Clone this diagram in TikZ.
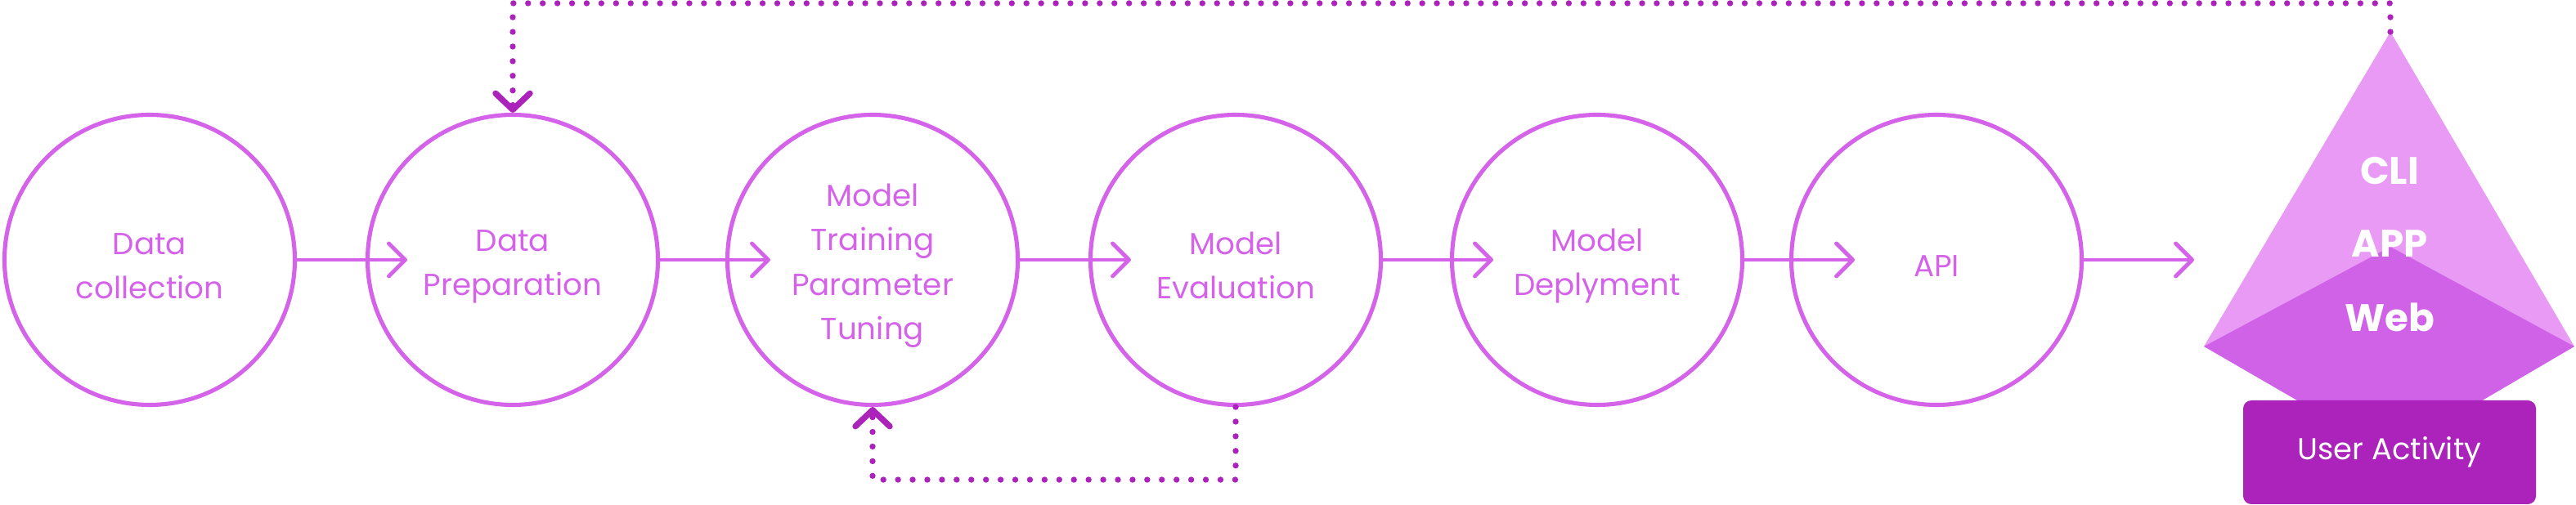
\documentclass[tikz,border=0pt]{standalone}
\usepackage{fontspec}
\setmainfont{Poppins}
\usetikzlibrary{arrows.meta}
\definecolor{stagec}{HTML}{D463E9}
\definecolor{pyrlight}{HTML}{E89AF4}
\definecolor{pyrdark}{HTML}{D062E8}
\definecolor{loopc}{HTML}{AB23BB}
\newcommand{\lift}{\rule{0pt}{0.42cm}}
\begin{document}
\begin{tikzpicture}[
	stage/.style={draw=stagec, line width=1.45pt, circle, minimum size=3.55cm, inner sep=0pt, align=center, text=stagec, font=\fontsize{10.6}{15.4}\selectfont},
	flow/.style={draw=stagec, line width=1.4pt, -{Straight Barb[length=0.2cm, width=0.4cm, line cap=round, line join=round]}},
	back/.style={draw=loopc, line width=2.1pt, line cap=round, dash pattern=on 0pt off 5.1pt, -{Straight Barb[length=0.2cm, width=0.42cm, line cap=round, line join=round]}},
	pyrtext/.style={text=white, font=\fontsize{13.3}{16}\selectfont\bfseries},
	useract/.style={fill=loopc, rounded corners=0.1cm, minimum width=3.58cm, minimum height=1.27cm, text=white, font=\fontsize{10.5}{12}\selectfont}
	]
	\useasboundingbox (0,0) rectangle (31.5,6.18);
	\node [stage] (c1) at (1.83,3) {\lift Data\\collection};
	\node [stage] (c2) at (6.27,3) {\lift Data\\Preparation};
	\node [stage] (c3) at (10.67,3) {\lift Model\\Training\\Parameter\\Tuning};
	\node [stage] (c4) at (15.11,3) {\lift Model\\Evaluation};
	\node [stage] (c5) at (19.53,3) {\lift Model\\Deplyment};
	\node [stage] (c6) at (23.68,3) {\lift API};
	\draw [flow] (c1.east) -- ([xshift=0.51cm]c2.west);
	\draw [flow] (c2.east) -- ([xshift=0.55cm]c3.west);
	\draw [flow] (c3.east) -- ([xshift=0.52cm]c4.west);
	\draw [flow] (c4.east) -- ([xshift=0.53cm]c5.west);
	\draw [flow] (c5.east) -- ([xshift=0.80cm]c6.west);
	\coordinate (apex) at (29.23,5.79);
	\coordinate (pyrleft) at (26.95,1.94);
	\coordinate (pyrright) at (31.48,1.94);
	\coordinate (appin) at (26.83,3);
	\fill [pyrlight] (apex) -- (pyrright) -- (pyrleft) -- cycle;
	\fill [pyrdark] (pyrleft) -- (29.23,3.16) -- (pyrright) -- (29.23,0.62) -- cycle;
	\node [useract] (user) at (29.22,0.645) {User Activity};
	\node [pyrtext] (cli) at (29.22,4.09) {CLI};
	\node [pyrtext] (app) at (29.22,3.2) {APP};
	\node [pyrtext] (web) at (29.22,2.3) {Web};
	\draw [flow] (c6.east) -- (appin);
	\draw [back] (apex) -- ++(0,0.35) -| (c2.north);
	\draw [back] (c4.south) -- ++(0,-0.89) -| (c3.south);
\end{tikzpicture}
\end{document}
